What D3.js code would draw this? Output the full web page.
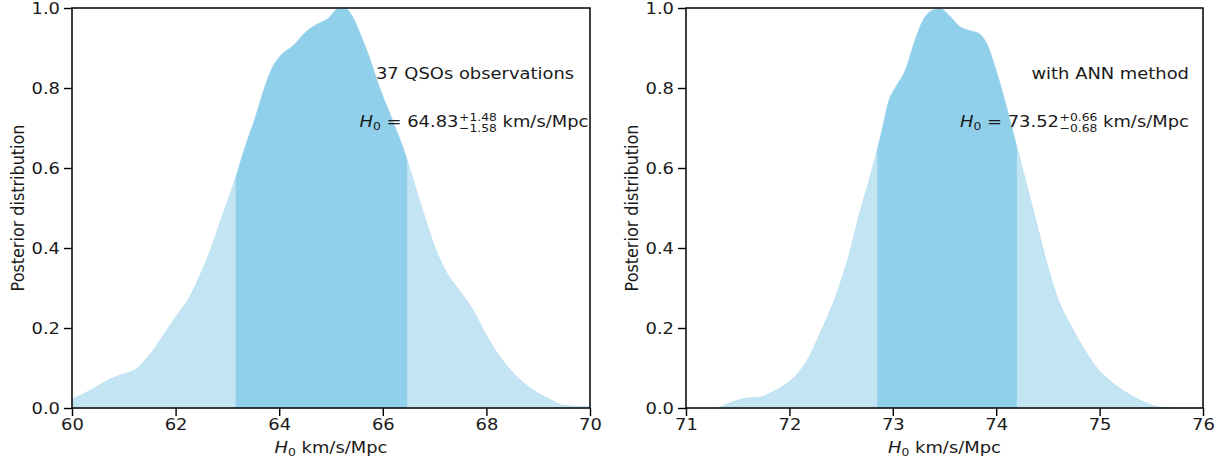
<!DOCTYPE html>
<html><head><meta charset="utf-8">
<script src="https://cdn.jsdelivr.net/npm/d3@7"></script>
<style>body{margin:0;background:#fff}svg{display:block}text{font-family:"DejaVu Sans",sans-serif;fill:#1a1a1a}</style>
</head><body>
<svg id="c" width="1222" height="461"></svg>
<script>
// Left panel: 37 QSOs observations
const qsoH0 = [60.0,60.4,60.73,61.0,61.27,61.4,61.54,61.74,62.0,62.27,62.47,62.67,62.87,63.14,63.34,63.54,63.74,63.87,64.0,64.27,64.54,64.74,64.94,65.14,65.28,65.41,65.54,65.74,65.94,66.14,66.41,66.61,66.81,67.01,67.21,67.48,67.75,67.95,68.22,68.48,68.82,69.22,69.49,70.0];
const qsoPost = [0.022,0.047,0.072,0.085,0.10,0.118,0.139,0.177,0.227,0.277,0.331,0.393,0.468,0.568,0.652,0.727,0.81,0.852,0.877,0.906,0.943,0.96,0.973,0.998,0.998,0.98,0.943,0.877,0.80,0.735,0.643,0.56,0.477,0.40,0.343,0.293,0.243,0.193,0.135,0.093,0.052,0.022,0.006,0.003];
const qsoInterval = [63.16, 66.47];
// Right panel: ANN method
const annH0 = [71.31,71.44,71.57,71.72,71.83,71.99,72.09,72.19,72.28,72.38,72.48,72.58,72.67,72.77,72.84,72.90,72.96,73.03,73.13,73.19,73.29,73.39,73.46,73.55,73.65,73.75,73.83,73.91,74.01,74.11,74.20,74.30,74.40,74.50,74.59,74.73,74.86,74.98,75.12,75.28,75.44,75.60,76.0];
const annPost = [0.0,0.014,0.024,0.027,0.039,0.064,0.089,0.127,0.177,0.235,0.302,0.385,0.477,0.568,0.635,0.70,0.767,0.803,0.85,0.90,0.968,0.995,0.998,0.98,0.953,0.943,0.937,0.91,0.835,0.743,0.652,0.552,0.452,0.352,0.277,0.202,0.143,0.098,0.064,0.035,0.014,0.002,0.0];
const annInterval = [72.85, 74.20];
const qsoTicks = [60,62,64,66,68,70];
const annTicks = [71,72,73,74,75,76];
const yTicks = [0.0,0.2,0.4,0.6,0.8,1.0];
const panels = [
  {x0:72, x1:590, dom:[60,70], xs:qsoH0, ys:qsoPost, ci:qsoInterval, ticks:qsoTicks,
   note:"37 QSOs observations", noteAnchor:"middle", noteX:475, val:"64.83", up:"+1.48", lo:"\u22121.58", valAnchor:"middle", valX:474},
  {x0:686, x1:1203, dom:[71,76], xs:annH0, ys:annPost, ci:annInterval, ticks:annTicks,
   note:"with ANN method", noteAnchor:"end", noteX:1189, val:"73.52", up:"+0.66", lo:"\u22120.68", valAnchor:"end", valX:1189}
];
const svg = d3.select("#c");
const yTop=8, yBot=408;
const FS=16, SX=1.12, NB="\u00A0";
panels.forEach(p=>{
  const x = d3.scaleLinear().domain(p.dom).range([p.x0,p.x1]);
  const y = d3.scaleLinear().domain([0,1]).range([yBot,yTop]);
  const pts = p.xs.map((v,i)=>[v,p.ys[i]]);
  const area = d3.area().x(d=>x(d[0])).y0(y(0)).y1(d=>y(d[1])).curve(d3.curveMonotoneX);
  const g = svg.append("g");
  g.append("path").attr("d",area(pts)).attr("fill","#c3e5f3").attr("stroke","#bfe2f2").attr("stroke-width",1);
  const clipId = "clip"+p.x0;
  svg.append("clipPath").attr("id",clipId).append("rect")
    .attr("x",x(p.ci[0])).attr("y",0).attr("width",x(p.ci[1])-x(p.ci[0])).attr("height",461);
  g.append("path").attr("d",area(pts)).attr("fill","#90d0ea").attr("clip-path",`url(#${clipId})`);
  // axes
  const xa = g.append("g").attr("transform",`translate(0,${yBot})`)
    .call(d3.axisBottom(x).tickValues(p.ticks).tickFormat(d3.format("d")).tickSize(8).tickPadding(3));
  const ya = g.append("g").attr("transform",`translate(${p.x0},0)`)
    .call(d3.axisLeft(y).tickValues(yTicks).tickFormat(d3.format(".1f")).tickSize(8).tickPadding(4));
  [xa,ya].forEach(a=>{
    a.select(".domain").remove();
    a.selectAll(".tick line").attr("stroke","#000").attr("stroke-width",1.4);
    a.selectAll(".tick text").attr("font-size",FS).attr("font-family","DejaVu Sans").attr("fill","#1a1a1a")
      .attr("transform",`scale(${SX},1)`);
  });
  ya.selectAll(".tick text").attr("x",-12/SX);
  g.append("rect").attr("x",p.x0).attr("y",yTop).attr("width",p.x1-p.x0).attr("height",yBot-yTop)
    .attr("fill","none").attr("stroke","#000").attr("stroke-width",1.5);
  // axis labels
  const xl = g.append("text").attr("transform",`translate(${(p.x0+p.x1)/2},453) scale(${SX},1)`)
    .attr("text-anchor","middle").attr("font-size",FS);
  xl.append("tspan").attr("font-style","italic").text("H");
  xl.append("tspan").attr("font-size",11).attr("dy",3).text("0");
  xl.append("tspan").attr("dy",-3).text(NB+"km/s/Mpc");
  g.append("text").attr("transform",`translate(${p.x0-48},${(yTop+yBot)/2}) scale(${SX},1) rotate(-90)`)
    .attr("text-anchor","middle").attr("font-size",FS).text("Posterior distribution");
  // annotations
  g.append("text").attr("transform",`translate(${p.noteX},79) scale(${SX},1)`)
    .attr("text-anchor",p.noteAnchor).attr("font-size",FS).text(p.note);
  const ag = g.append("g");
  let cx=0; const base=127;
  const put=(txt,opts)=>{
    const t=ag.append("text").attr("x",cx+(opts.dx||0)).attr("y",base+(opts.dy||0)).attr("font-size",opts.fs||FS).text(txt);
    if(opts.it) t.attr("font-style","italic");
    return t.node().getComputedTextLength();
  };
  cx+=put("H",{it:true});
  cx+=put("0",{fs:11,dy:3});
  cx+=put(NB+"="+NB+p.val,{});
  cx+=0.5;
  const w1=put(p.up,{fs:11,dy:-6});
  const w2=put(p.lo,{fs:11,dy:5});
  cx+=Math.max(w1,w2);
  cx+=put(NB+"km/s/Mpc",{});
  const W=cx*SX;
  const shift = p.valAnchor==="end" ? p.valX-W : p.valX-W/2;
  ag.attr("transform",`translate(${shift},0) scale(${SX},1)`);
});
</script>
</body></html>
